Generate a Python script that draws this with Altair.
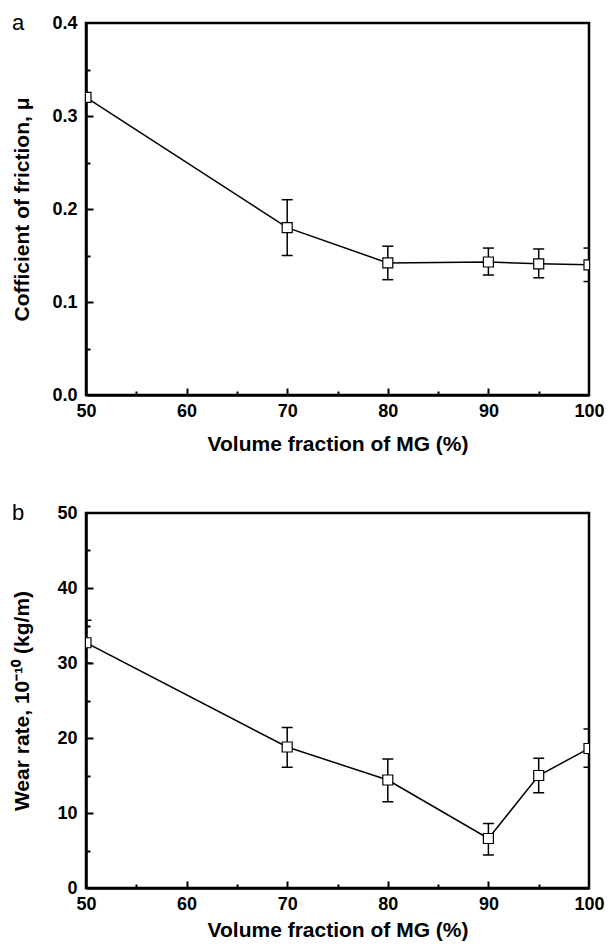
import altair as alt
import pandas as pd
import numpy as np

# ---- data ----
fraction = [50, 70, 80, 90, 95, 100]

friction = [0.320, 0.180, 0.142, 0.143, 0.141, 0.140]
friction_lo = [np.nan, 0.150, 0.124, 0.129, 0.126, 0.122]
friction_hi = [np.nan, 0.210, 0.160, 0.158, 0.157, 0.158]

wear = [32.7, 18.8, 14.4, 6.6, 15.0, 18.6]
wear_lo = [30.0, 16.1, 11.5, 4.4, 12.7, 16.1]
wear_hi = [35.7, 21.4, 17.2, 8.6, 17.3, 21.2]

x_major = [50, 60, 70, 80, 90, 100]
x_inner = [55, 60, 65, 70, 75, 80, 85, 90, 95]

fric_major = [0.0, 0.1, 0.2, 0.3, 0.4]
fric_inner = [0.05, 0.1, 0.15, 0.2, 0.25, 0.3, 0.35]
wear_major = [0, 10, 20, 30, 40, 50]
wear_inner = [5, 10, 15, 20, 25, 30, 35, 40, 45]

W = 503
FONT = "Liberation Sans"


def panel(yvals, lo, hi, ydomain, ymajor, yinner, yfmt, ytitle, letter, H, tick_test, xtp):
    df = pd.DataFrame({"x": fraction, "y": yvals, "lo": lo, "hi": hi})
    err = df.dropna()
    xs = alt.Scale(domain=[50, 100], nice=False, zero=False)
    ys = alt.Scale(domain=ydomain, nice=False, zero=False)

    x_axis = alt.Axis(orient="bottom", values=x_major, format="d", ticks=False, tickSize=0,
                      grid=False, domain=True, domainColor="black", domainWidth=2.5,
                      labelFont=FONT, labelFontSize=18, labelFontWeight="bold", labelColor="black",
                      labelPadding=7, labelFlush=False, labelOverlap=False,
                      title="Volume fraction of MG (%)", titleFont=FONT, titleFontSize=21,
                      titleFontWeight="bold", titleColor="black", titlePadding=xtp)
    y_axis = alt.Axis(orient="left", values=ymajor, format=yfmt, ticks=False, tickSize=0,
                      grid=False, domain=True, domainColor="black", domainWidth=2.5,
                      labelFont=FONT, labelFontSize=18, labelFontWeight="bold", labelColor="black",
                      labelPadding=9, labelFlush=False, labelOverlap=False,
                      title=ytitle, titleFont=FONT, titleFontSize=21, titleFontWeight="bold",
                      titleColor="black", titleAngle=-90, titleX=-64, titleY=H / 2,
                      titleAlign="center", titleBaseline="middle")

    base = alt.Chart(df)
    line = base.mark_line(color="black", strokeWidth=1.5, clip=True).encode(
        x=alt.X("x:Q", scale=xs, axis=x_axis),
        y=alt.Y("y:Q", scale=ys, axis=y_axis),
    )
    ebase = alt.Chart(err)
    rules = ebase.mark_rule(color="black", strokeWidth=1.5, clip=True).encode(
        x=alt.X("x:Q", scale=xs, axis=None),
        y=alt.Y("lo:Q", scale=ys, axis=None),
        y2="hi:Q",
    )
    cap_lo = ebase.mark_tick(orient="horizontal", size=11, thickness=1.5, color="black",
                             opacity=1, clip=True).encode(
        x=alt.X("x:Q", scale=xs, axis=None),
        y=alt.Y("lo:Q", scale=ys, axis=None),
    )
    cap_hi = ebase.mark_tick(orient="horizontal", size=11, thickness=1.5, color="black",
                             opacity=1, clip=True).encode(
        x=alt.X("x:Q", scale=xs, axis=None),
        y=alt.Y("hi:Q", scale=ys, axis=None),
    )
    pts = base.mark_point(shape="square", filled=True, fill="white", stroke="black",
                          strokeWidth=1.2, size=100, opacity=1, clip=True).encode(
        x=alt.X("x:Q", scale=xs, axis=None),
        y=alt.Y("y:Q", scale=ys, axis=None),
    )
    # inward pointing ticks: axes on the opposite side moved onto the frame
    inner = base.mark_point(opacity=0).encode(
        x=alt.X("x:Q", scale=xs, axis=alt.Axis(
            orient="top", offset=-H, values=x_inner, labels=False, domain=False,
            title=None, grid=False, ticks=True, tickColor="black", tickWidth=2,
            tickSize={"condition": {"test": "datum.value % 10 === 0", "value": 7}, "value": 4})),
        y=alt.Y("y:Q", scale=ys, axis=alt.Axis(
            orient="right", offset=-W, values=yinner, labels=False, domain=False,
            title=None, grid=False, ticks=True, tickColor="black", tickWidth=2,
            tickSize={"condition": {"test": tick_test, "value": 7}, "value": 4})),
    )
    lab = alt.Chart(pd.DataFrame({"letter": [letter]})).mark_text(
        font=FONT, fontSize=22, fontWeight="normal", color="black",
        align="center", baseline="middle").encode(
        text="letter:N", x=alt.value(-68), y=alt.value(0))

    return alt.layer(line, rules, cap_lo, cap_hi, pts, inner, lab).properties(
        width=W, height=H, view=alt.ViewBackground(stroke="black", strokeWidth=2.5))


pa = panel(friction, friction_lo, friction_hi, [0, 0.4], fric_major, fric_inner, ".1f",
           "Cofficient of friction, \u03bc", "a", 372,
           "round(datum.value * 100) % 10 === 0", 13)
pb = panel(wear, wear_lo, wear_hi, [0, 50], wear_major, wear_inner, "d",
           "Wear rate, 10\u207b\u00b9\u2070 (kg/m)", "b", 375,
           "datum.value % 10 === 0", 6)

chart = alt.vconcat(pa, pb, spacing=44).properties(
    padding={"left": 1, "top": 2, "right": 0, "bottom": 0},
    background="white",
).configure_view(stroke="black", strokeWidth=2.5)

chart.save("out.html", embed_options={"renderer": "svg", "actions": False})
